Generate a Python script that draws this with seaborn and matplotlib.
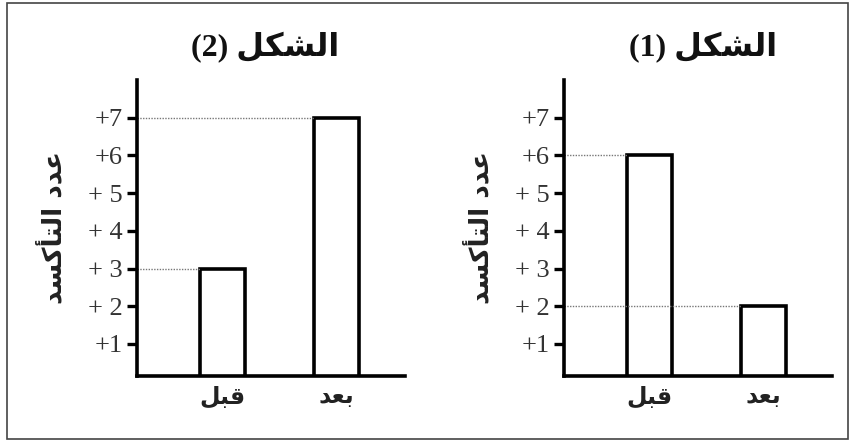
import matplotlib
matplotlib.use("Agg")
import matplotlib.pyplot as plt
from matplotlib.patches import Rectangle
import seaborn as sns
import pandas as pd

# ---------------- data ----------------
categories = ["قبل", "بعد"]
fig2_values = [3, 7]          # الشكل (2)  (left panel)
fig1_values = [6, 2]          # الشكل (1)  (right panel)
y_ticks = [1, 2, 3, 4, 5, 6, 7]
y_tick_labels = ["+1", "+ 2", "+ 3", "+ 4", "+ 5", "+6", "+7"]
y_label = "عدد التأكسد"
title_word = "الشكل"
panel_numbers = [2, 1]

# ------------- minimal Arabic shaping (matplotlib has no bidi/shaping) -------------
FORMS = {
    'ا': ('\uFE8D', '\uFE8E', None, None),
    'أ': ('\uFE83', '\uFE84', None, None),
    'د': ('\uFEA9', '\uFEAA', None, None),
    'ب': ('\uFE8F', '\uFE90', '\uFE91', '\uFE92'),
    'ت': ('\uFE95', '\uFE96', '\uFE97', '\uFE98'),
    'س': ('\uFEB1', '\uFEB2', '\uFEB3', '\uFEB4'),
    'ش': ('\uFEB5', '\uFEB6', '\uFEB7', '\uFEB8'),
    'ع': ('\uFEC9', '\uFECA', '\uFECB', '\uFECC'),
    'ق': ('\uFED5', '\uFED6', '\uFED7', '\uFED8'),
    'ك': ('\uFED9', '\uFEDA', '\uFEDB', '\uFEDC'),
    'ل': ('\uFEDD', '\uFEDE', '\uFEDF', '\uFEE0'),
}


def shape_word(w):
    out = []
    for i, ch in enumerate(w):
        f = FORMS.get(ch)
        if f is None:
            out.append(ch)
            continue
        prev = w[i - 1] if i > 0 else None
        nxt = w[i + 1] if i + 1 < len(w) else None
        jp = prev in FORMS and FORMS[prev][2] is not None
        jn = f[2] is not None and nxt in FORMS
        if jp and jn:
            out.append(f[3])
        elif jp:
            out.append(f[1])
        elif jn:
            out.append(f[2])
        else:
            out.append(f[0])
    return ''.join(out)


def visual(text):
    return ' '.join(shape_word(w)[::-1] for w in text.split(' ')[::-1])


# ---------------- figure ----------------
sns.set_theme(style="white")
plt.rcParams['font.family'] = ['Liberation Serif', 'DejaVu Sans']
AR = ['DejaVu Sans']

fig = plt.figure(figsize=(8.49, 4.41), dpi=100)
fig.patch.set_facecolor("white")

ax_left = fig.add_axes([137 / 849, 65 / 441, 268 / 849, 296 / 441])
ax_right = fig.add_axes([564 / 849, 65 / 441, 268 / 849, 296 / 441])

BAR_W = 0.39
panels = [(ax_left, fig2_values, panel_numbers[0], 265 / 849),
          (ax_right, fig1_values, panel_numbers[1], 703 / 849)]

for ax, vals, num, tx in panels:
    df = pd.DataFrame({"cat": categories, "val": vals})
    sns.barplot(data=df, x="cat", y="val", order=categories, ax=ax,
                color="white", edgecolor="black", linewidth=2.6,
                width=BAR_W, saturation=1)
    for p in ax.patches:
        p.set_zorder(1)
    ax.set_xlim(-0.75, 1.6)
    ax.set_ylim(0.15, 8.0)
    ax.set_facecolor("white")
    for s in ["top", "right"]:
        ax.spines[s].set_visible(False)
    for s in ["left", "bottom"]:
        ax.spines[s].set_visible(True)
        ax.spines[s].set_color("black")
        ax.spines[s].set_linewidth(2.6)
        ax.spines[s].set_zorder(4)

    # dotted guide lines from axis to the left edge of each bar
    for i, v in enumerate(vals):
        ax.hlines(v, -0.75, i - BAR_W / 2, colors="#777777",
                  linestyles=(0, (1, 1)), linewidth=1.0, zorder=3)

    ax.set_yticks(y_ticks)
    ax.set_yticklabels(y_tick_labels, fontsize=19,
                       fontfamily='Liberation Serif', color="#333333")
    ax.tick_params(axis="y", length=7, width=2.4, color="black", pad=3,
                   left=True, direction="out")
    ax.set_xticks(range(len(categories)))
    ax.set_xticklabels([visual(c) for c in categories], fontsize=17,
                       fontweight="bold", fontfamily=AR, color="#222222")
    ax.tick_params(axis="x", length=0, pad=6)
    ax.set_xlabel("")
    ax.set_ylabel("")

    # y label
    pos = ax.get_position()
    lx = pos.x0 - 83 / 849
    fig.text(lx, pos.y0 + pos.height / 2, visual(y_label), rotation=90,
             ha="center", va="center", fontsize=19, fontweight="bold",
             fontfamily=AR, color="#222222")

    # panel title
    fig.text(tx, (441 - 48) / 441, f"({num}) " + visual(title_word),
             ha="center", va="center", fontsize=23, fontweight="bold",
             family=['Liberation Serif', 'DejaVu Sans'], color="#111111")

# outer frame
fig.patches.append(Rectangle((6.5 / 849, 2.5 / 441), 841 / 849, 436 / 441,
                             transform=fig.transFigure, fill=False,
                             edgecolor="#444444", linewidth=1.2))

fig.savefig("out.png", dpi=100, facecolor="white")
